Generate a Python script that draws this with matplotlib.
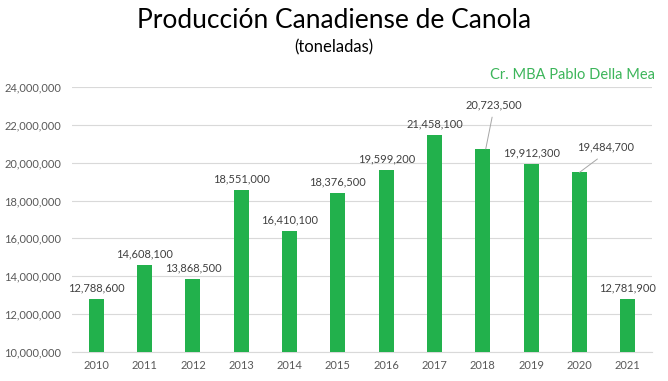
import matplotlib.pyplot as plt
import numpy as np

years = ['2010', '2011', '2012', '2013', '2014', '2015', '2016', '2017', '2018', '2019', '2020', '2021']
produccion = [12788600, 14608100, 13868500, 18551000, 16410100, 18376500,
              19599200, 21458100, 20723500, 19912300, 19484700, 12781900]

GREEN = '#22b14c'
GRAY = '#595959'

plt.rcParams['font.family'] = ['Lato', 'DejaVu Sans']

fig = plt.figure(figsize=(6.68, 3.81), dpi=100)
ax = fig.add_axes([0.108, 0.076, 0.868, 0.696])

x = np.arange(len(years))
ax.bar(x, produccion, width=0.31, color=GREEN, zorder=3)

ax.set_ylim(10000000, 24000000)
ax.set_xlim(-0.5, len(years) - 0.5)
ax.set_yticks(np.arange(10000000, 24000001, 2000000))
ax.yaxis.set_major_formatter(plt.FuncFormatter(lambda v, p: f'{int(v):,}'))
ax.set_xticks(x)
ax.set_xticklabels(years)
ax.tick_params(axis='both', length=0, labelsize=8, labelcolor=GRAY)
ax.tick_params(axis='y', pad=8)
ax.tick_params(axis='x', pad=6)
ax.grid(axis='y', color='#d9d9d9', linewidth=0.8, zorder=0)
for s in ['top', 'right', 'left']:
    ax.spines[s].set_visible(False)
ax.spines['bottom'].set_color('#d9d9d9')

# etiquetas de datos
for i, v in enumerate(produccion):
    label = f'{v:,}'
    if years[i] == '2018':
        ax.annotate(label, xy=(i + 0.06, v), xytext=(i + 0.22, v + 2330000),
                    ha='center', va='center', fontsize=8, color='#404040',
                    arrowprops=dict(arrowstyle='-', color='#a6a6a6', lw=0.7,
                                    relpos=(0.5, 0), shrinkA=3, shrinkB=0))
    elif years[i] == '2020':
        ax.annotate(label, xy=(i, v), xytext=(i + 0.54, v + 1320000),
                    ha='center', va='center', fontsize=8, color='#404040',
                    arrowprops=dict(arrowstyle='-', color='#a6a6a6', lw=0.7,
                                    relpos=(0.5, 0), shrinkA=4, shrinkB=0))
    else:
        ax.annotate(label, xy=(i, v), xytext=(0, 4), textcoords='offset points',
                    ha='center', va='bottom', fontsize=8, color='#404040')

fig.text(0.5, 0.945, 'Producción Canadiense de Canola', ha='center', va='center',
         fontsize=19, color='black')
fig.text(0.5, 0.875, '(toneladas)', ha='center', va='center', fontsize=12, color='black')
fig.text(0.981, 0.803, 'Cr. MBA Pablo Della Mea', ha='right', va='center',
         fontsize=10.5, color='#3cb55a')

fig.savefig('out.png', dpi=100)
